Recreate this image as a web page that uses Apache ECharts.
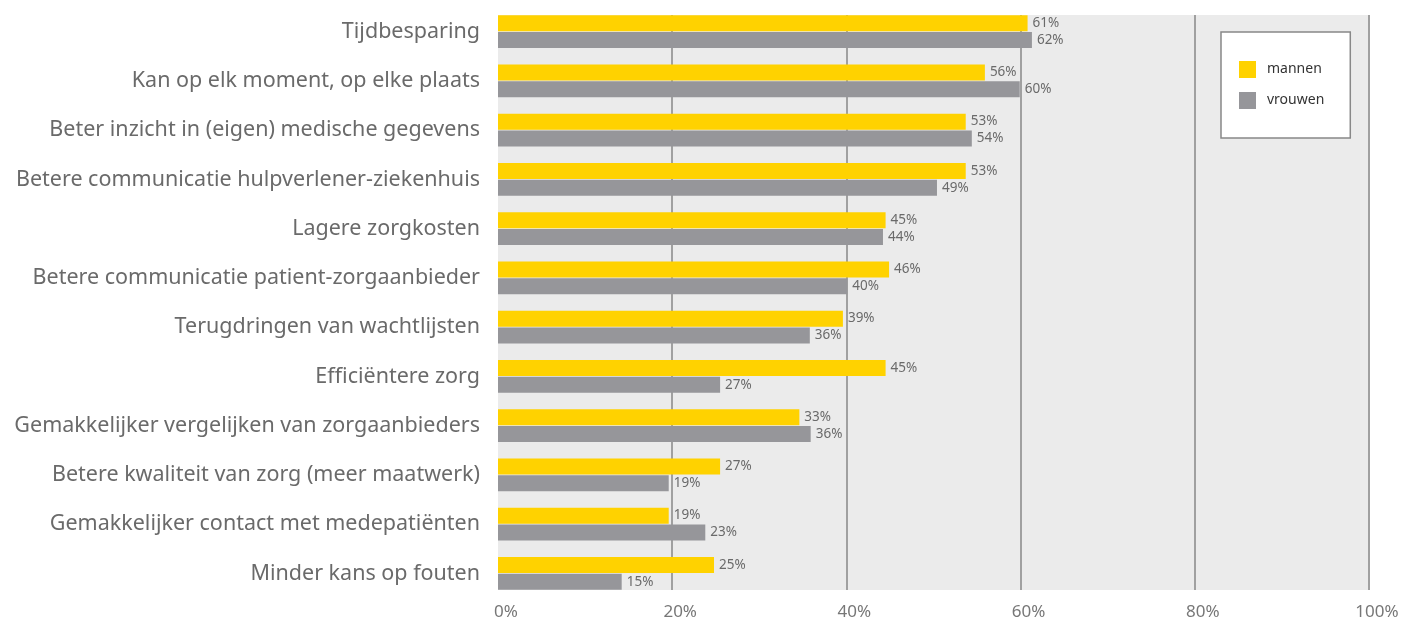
<!DOCTYPE html>
<html>
<head>
<meta charset="utf-8">
<script src="https://cdn.jsdelivr.net/npm/echarts@6/dist/echarts.min.js"></script>
<style>
html,body{margin:0;padding:0;background:#fff;}
#chart{width:1403px;height:624px;}
</style>
</head>
<body>
<div id="chart"></div>
<script>
var categories = [
  'Tijdbesparing',
  'Kan op elk moment, op elke plaats',
  'Beter inzicht in (eigen) medische gegevens',
  'Betere communicatie hulpverlener-ziekenhuis',
  'Lagere zorgkosten',
  'Betere communicatie patient-zorgaanbieder',
  'Terugdringen van wachtlijsten',
  'Efficiëntere zorg',
  'Gemakkelijker vergelijken van zorgaanbieders',
  'Betere kwaliteit van zorg (meer maatwerk)',
  'Gemakkelijker contact met medepatiënten',
  'Minder kans op fouten'
];
// bar lengths as drawn in the picture (%)
var mannen = [60.8, 55.9, 53.7, 53.7, 44.5, 44.9, 39.6, 44.5, 34.6, 25.5, 19.6, 24.8];
var vrouwen = [61.3, 59.9, 54.4, 50.4, 44.2, 40.1, 35.8, 25.5, 35.9, 19.6, 23.8, 14.2];
// printed value labels (%)
var mannenLabels = [61, 56, 53, 53, 45, 46, 39, 45, 33, 27, 19, 25];
var vrouwenLabels = [62, 60, 54, 49, 44, 40, 36, 27, 36, 19, 23, 15];
var xTicks = [0, 20, 40, 60, 80, 100];

var FONT = 'Noto Sans';
var chart = echarts.init(document.getElementById('chart'), null, {renderer: 'canvas'});

function labelCfg(arr) {
  return {
    show: true,
    position: 'right',
    distance: 5,
    fontFamily: FONT,
    fontSize: 13.5,
    color: '#6a6a6a',
    formatter: function (p) { return arr[p.dataIndex] + '%'; }
  };
}

chart.setOption({
  animation: false,
  textStyle: {fontFamily: FONT},
  grid: [
    {left: 498, right: 34, top: 7, bottom: 26, containLabel: false},
    {left: 498, right: 34, top: 15, bottom: 34, show: true, backgroundColor: '#ebebeb', borderWidth: 0, z: -1}
  ],
  xAxis: [
    {gridIndex: 0, type: 'value', min: 0, max: 100, interval: 20, show: false},
    {
      gridIndex: 1, type: 'value', min: xTicks[0], max: xTicks[xTicks.length - 1], interval: 20,
      z: -1,
      axisLine: {show: false},
      axisTick: {show: false},
      splitLine: {show: true, showMinLine: false, lineStyle: {color: '#a0a0a0', width: 2}},
      axisLabel: {
        margin: 14,
        fontFamily: FONT,
        fontSize: 17,
        color: '#777',
        padding: [0, 0, 0, 16],
        formatter: '{value}%'
      }
    }
  ],
  yAxis: [
    {
      gridIndex: 0, type: 'category', data: categories, inverse: true,
      axisLine: {show: false},
      axisTick: {show: false},
      splitLine: {show: false},
      axisLabel: {margin: 18, fontFamily: FONT, fontSize: 21.5, color: '#6a6a6a'}
    },
    {gridIndex: 1, type: 'category', data: categories, inverse: true, show: false}
  ],
  legend: {
    orient: 'vertical',
    left: 1221,
    top: 32,
    data: ['mannen', 'vrouwen'],
    icon: 'rect',
    itemWidth: 17,
    itemHeight: 17,
    itemGap: 14,
    padding: [29, 26, 29, 18],
    backgroundColor: '#fff',
    borderColor: '#888',
    borderWidth: 1.5,
    textStyle: {fontFamily: FONT, fontSize: 14, color: '#333', padding: [0, 0, 0, 6]}
  },
  series: [
    {
      name: 'mannen', type: 'bar', xAxisIndex: 0, yAxisIndex: 0,
      data: mannen, barWidth: 16, barGap: '6%',
      itemStyle: {color: '#ffd200'},
      label: labelCfg(mannenLabels)
    },
    {
      name: 'vrouwen', type: 'bar', xAxisIndex: 0, yAxisIndex: 0,
      data: vrouwen, barWidth: 16, barGap: '6%',
      itemStyle: {color: '#96969a'},
      label: labelCfg(vrouwenLabels)
    }
  ]
});
</script>
</body>
</html>
